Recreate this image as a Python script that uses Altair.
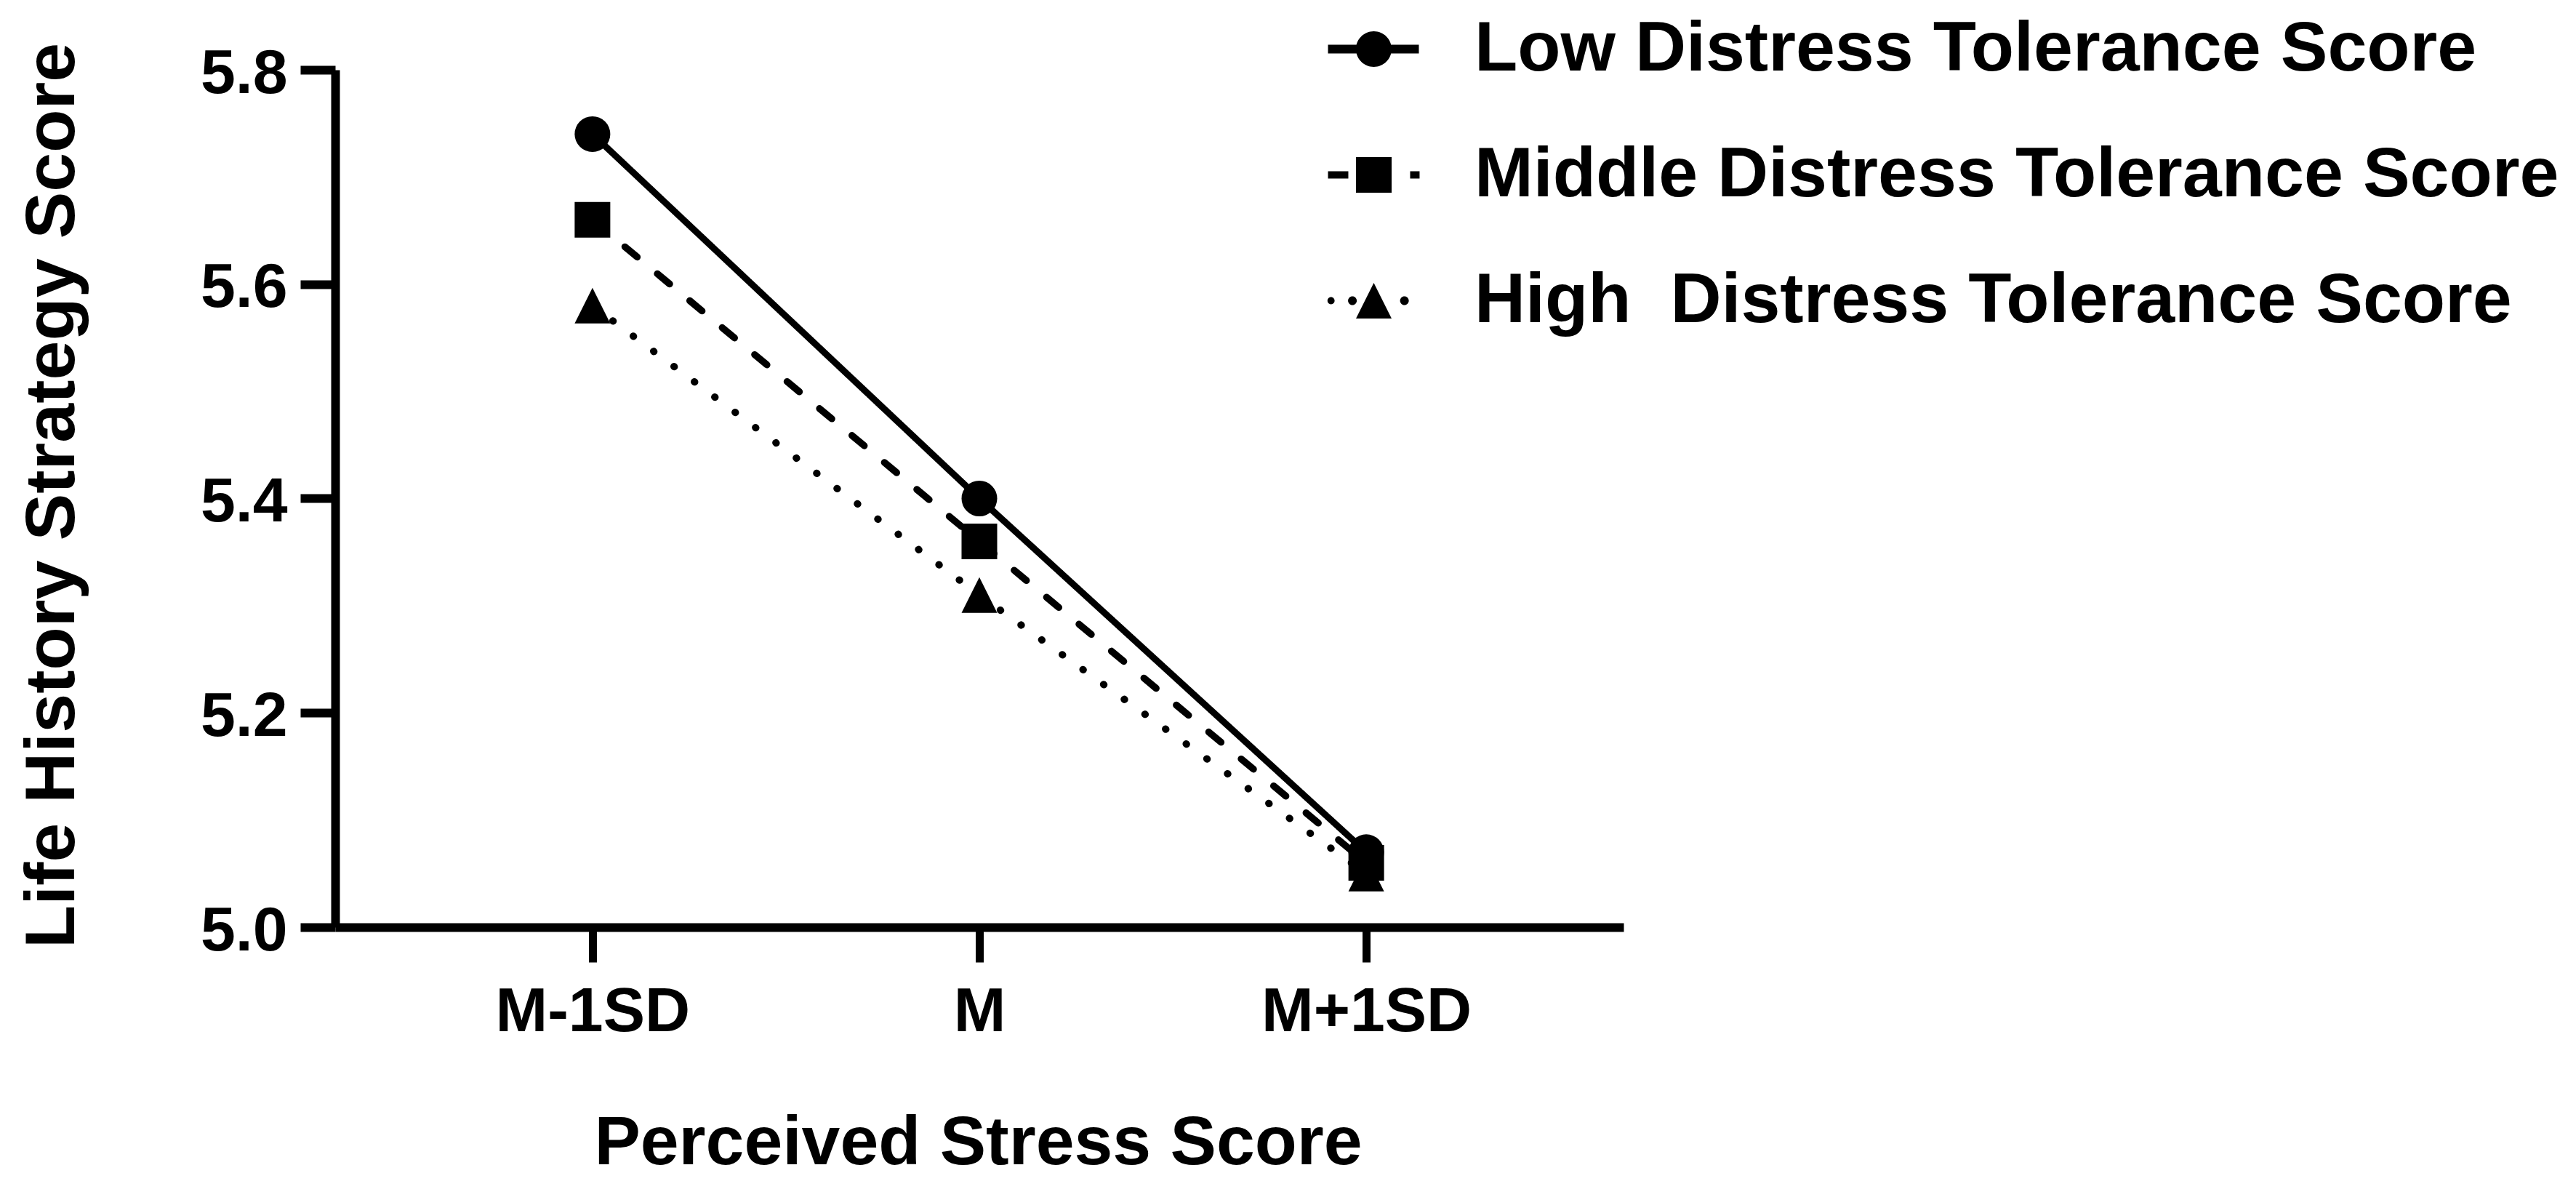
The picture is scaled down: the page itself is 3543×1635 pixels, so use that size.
import altair as alt
import pandas as pd

# ---------------- data ----------------
levels = ["M-1SD", "M", "M+1SD"]
groups = [
    "Low Distress Tolerance Score",
    "Middle Distress Tolerance Score",
    "High\u00a0 Distress Tolerance Score",
]
low_scores = [5.74, 5.40, 5.07]
middle_scores = [5.66, 5.36, 5.06]
high_scores = [5.58, 5.31, 5.05]
y_ticks = [5.0, 5.2, 5.4, 5.6, 5.8]

rows = []
for g, vals in zip(groups, [low_scores, middle_scores, high_scores]):
    for i, (lv, v) in enumerate(zip(levels, vals)):
        rows.append({"level": lv, "idx": i, "group": g, "score": v})
df = pd.DataFrame(rows)

FONT = "Liberation Sans"

# ---------------- symbol paths ----------------
TRI = "M0,-1L1,1L-1,1Z"
CIRC = "M-1,0A1,1,0,1,1,1,0A1,1,0,1,1,-1,0Z"
SQ = "M-1,-1L1,-1L1,1L-1,1Z"


def bar(x0, x1, h):
    return f"M{x0},{-h}L{x1},{-h}L{x1},{h}L{x0},{h}Z"


def dot(cx, r):
    return f"M{cx - r},0A{r},{r},0,1,1,{cx + r},0A{r},{r},0,1,1,{cx - r},0Z"


legend_paths = [
    bar(-2.57, 2.53, 0.245) + CIRC,
    bar(-2.57, -1.43, 0.2) + SQ + bar(2.04, 2.57, 0.2),
    dot(-2.4, 0.2) + dot(-1.2, 0.245) + TRI + dot(1.72, 0.245),
]

# ---------------- encodings ----------------
x_enc = alt.X(
    "level:N",
    sort=levels,
    scale=alt.Scale(type="point", domain=levels, padding=0.665),
    axis=alt.Axis(
        title="Perceived Stress Score",
        titleFont=FONT, titleFontSize=95, titleFontWeight="bold", titleColor="black",
        titleX=884, titleY=325, titleBaseline="alphabetic", titleAlign="center",
        labelFont=FONT, labelFontSize=86, labelFontWeight="bold", labelColor="black",
        labelBaseline="alphabetic", labelPadding=94, labelAngle=0, labelLimit=1000,
        domainColor="black", domainWidth=12,
        tickColor="black", tickWidth=11, tickSize=48,
        grid=False,
    ),
)

y_enc = alt.Y(
    "score:Q",
    scale=alt.Scale(domain=[5.0, 5.8], nice=False, zero=False),
    axis=alt.Axis(
        values=y_ticks, format=".1f",
        title="Life History Strategy Score",
        titleFont=FONT, titleFontSize=97, titleFontWeight="bold", titleColor="black",
        titleAngle=270, titleX=-360, titleY=585, titleBaseline="alphabetic", titleAlign="center",
        labelFont=FONT, labelFontSize=86, labelFontWeight="bold", labelColor="black",
        labelBaseline="alphabetic", labelOffset=31, labelPadding=18, labelLimit=1000,
        domainColor="black", domainWidth=12,
        tickColor="black", tickWidth=12, tickSize=48,
        grid=False,
    ),
)

base = alt.Chart(df)

lines = base.mark_line(color="black", strokeCap="round").encode(
    x=x_enc,
    y=y_enc,
    order=alt.Order("idx:Q"),
    strokeDash=alt.StrokeDash(
        "group:N",
        scale=alt.Scale(domain=groups, range=[[1, 0], [22, 36], [0.5, 34.5]]),
        legend=None,
    ),
    strokeWidth=alt.StrokeWidth(
        "group:N", scale=alt.Scale(domain=groups, range=[9, 10, 12]), legend=None
    ),
)

points = base.mark_point(filled=True, opacity=1, color="black", size=2401).encode(
    x=x_enc,
    y=y_enc,
    shape=alt.Shape(
        "group:N",
        scale=alt.Scale(domain=groups, range=["circle", "square", TRI]),
        legend=None,
    ),
)

legend_layer = base.transform_filter("false").mark_point(
    filled=True, opacity=1, color="black", size=2401
).encode(
    x=x_enc,
    y=y_enc,
    shape=alt.Shape(
        "group:N",
        scale=alt.Scale(domain=groups, range=legend_paths),
        legend=alt.Legend(
            title=None,
            orient="none",
            legendX=1380,
            legendY=-77,
            padding=0,
            labelFont=FONT,
            labelFontSize=97,
            labelFontWeight="bold",
            labelColor="black",
            labelLimit=3000,
            labelOffset=90,
            symbolSize=2401,
            symbolStrokeWidth=0,
            symbolFillColor="black",
            symbolOpacity=1,
            rowPadding=75,
        ),
    ),
)

chart = (
    alt.layer(lines, points, legend_layer)
    .resolve_scale(shape="independent")
    .properties(
        width=1772,
        height=1179,
        padding={"left": 453, "top": 88, "right": 1302, "bottom": 352},
        autosize=alt.AutoSizeParams(type="none"),
        background="white",
    )
    .configure_view(strokeWidth=0)
)

chart.save("out.html", embed_options={"renderer": "svg", "actions": False})
